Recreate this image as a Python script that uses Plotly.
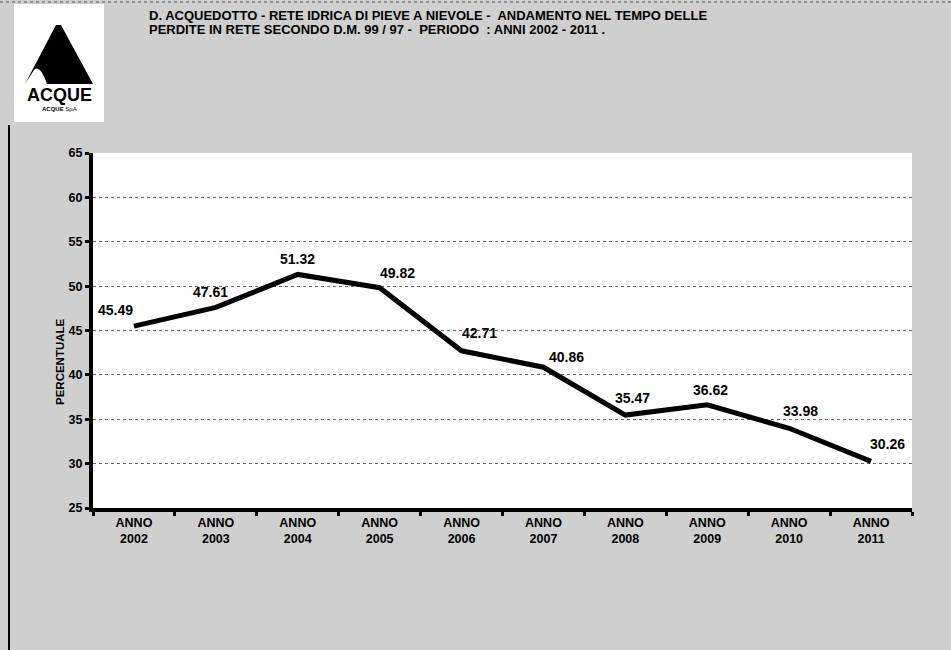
import plotly.graph_objects as go

categories = ["ANNO<br>2002", "ANNO<br>2003", "ANNO<br>2004", "ANNO<br>2005", "ANNO<br>2006",
              "ANNO<br>2007", "ANNO<br>2008", "ANNO<br>2009", "ANNO<br>2010", "ANNO<br>2011"]
values = [45.49, 47.61, 51.32, 49.82, 42.71, 40.86, 35.47, 36.62, 33.98, 30.26]
label_dx = [-18, -5, 0, 18, 18, 23, 7, 3, 11, 16]
label_dy = [16, 15, 15, 15, 18, 10, 17, 15, 17, 17]
y_ticks = [25, 30, 35, 40, 45, 50, 55, 60, 65]
title_lines = ["D. ACQUEDOTTO - RETE IDRICA DI PIEVE A NIEVOLE -  ANDAMENTO NEL TEMPO DELLE",
               "PERDITE IN RETE SECONDO D.M. 99 / 97 -  PERIODO  : ANNI 2002 - 2011 ."]

W, H = 951, 650
L, R, T, B = 93, 39, 153, 142
PW, PH = W - L - R, H - T - B

def px(x):
    return (x - L) / PW

def py(y):
    return (H - B - y) / PH

FONT = "Liberation Sans"

fig = go.Figure()
fig.add_trace(go.Scatter(
    x=list(range(len(values))), y=values, mode="lines",
    line=dict(color="black", width=5), hoverinfo="skip", showlegend=False))

annotations = []
for i, v in enumerate(values):
    annotations.append(dict(
        x=i, y=v, xref="x", yref="y", text=f"<b>{v:.2f}</b>", showarrow=False,
        xshift=label_dx[i], yshift=label_dy[i],
        font=dict(family=FONT, size=14, color="black")))

for k, line in enumerate(title_lines):
    annotations.append(dict(
        x=px(147), y=py(15 + 14 * k), xref="paper", yref="paper", xanchor="left", yanchor="middle",
        align="left", showarrow=False, text=f"<b>{line}</b>",
        font=dict(family=FONT, size=13, color="black")))

annotations.append(dict(
    x=px(60), y=py(362), xref="paper", yref="paper", xanchor="center", yanchor="middle",
    text="<b>PERCENTUALE</b>", textangle=-90, showarrow=False,
    font=dict(family=FONT, size=11.5, color="black")))

annotations.append(dict(
    x=px(59), y=py(95), xref="paper", yref="paper", xanchor="center", yanchor="middle",
    text="<b>ACQUE</b>", showarrow=False, font=dict(family=FONT, size=18, color="black")))
annotations.append(dict(
    x=px(59), y=py(109), xref="paper", yref="paper", xanchor="center", yanchor="middle",
    text="<b>ACQUE</b> SpA", showarrow=False, font=dict(family=FONT, size=6, color="black")))

shapes = [
    dict(type="rect", xref="paper", yref="paper", x0=px(14), x1=px(104), y0=py(122), y1=py(4),
         fillcolor="white", line=dict(width=0), layer="below"),
    dict(type="path", xref="paper", yref="paper",
         path=f"M {px(25)} {py(84)} L {px(56)} {py(25)} L {px(61)} {py(25)} L {px(93)} {py(84)} "
              f"L {px(47)} {py(84)} Q {px(40)} {py(64)} {px(34)} {py(70)} Z",
         fillcolor="black", line=dict(width=0)),
    dict(type="line", xref="paper", yref="paper", x0=px(9), x1=px(9), y0=py(125), y1=py(650),
         line=dict(color="black", width=2)),
    dict(type="line", xref="paper", yref="paper", x0=px(0), x1=px(951), y0=py(2), y1=py(2),
         line=dict(color="#555555", width=1, dash="dot")),
]

fig.update_layout(
    width=W, height=H,
    margin=dict(l=L, r=R, t=T, b=B),
    paper_bgcolor="#cfcfcf", plot_bgcolor="white",
    annotations=annotations, shapes=shapes,
    xaxis=dict(
        tickmode="array", tickvals=list(range(len(categories))),
        ticktext=[f"<b>{c}</b>" for c in categories],
        range=[-0.5, len(categories) - 0.5], showgrid=False, zeroline=False,
        showline=True, linecolor="black", linewidth=4, ticks="", ticklen=0,
        minor=dict(tickmode="array", tickvals=[i - 0.5 for i in range(len(categories) + 1)],
                   ticks="outside", ticklen=4, tickwidth=3, tickcolor="black", showgrid=False),
        tickfont=dict(family=FONT, size=12.5, color="black"), fixedrange=True),
    yaxis=dict(
        tickmode="array", tickvals=y_ticks, ticktext=[f"<b>{t}</b>" for t in y_ticks],
        range=[25, 65], showgrid=True, gridcolor="#666666", griddash="dot", gridwidth=1,
        zeroline=False, showline=True, linecolor="black", linewidth=4,
        ticks="outside", ticklen=4, tickcolor="black", tickwidth=3,
        tickfont=dict(family=FONT, size=12.5, color="black"), fixedrange=True),
)

fig.write_html("out.html")
